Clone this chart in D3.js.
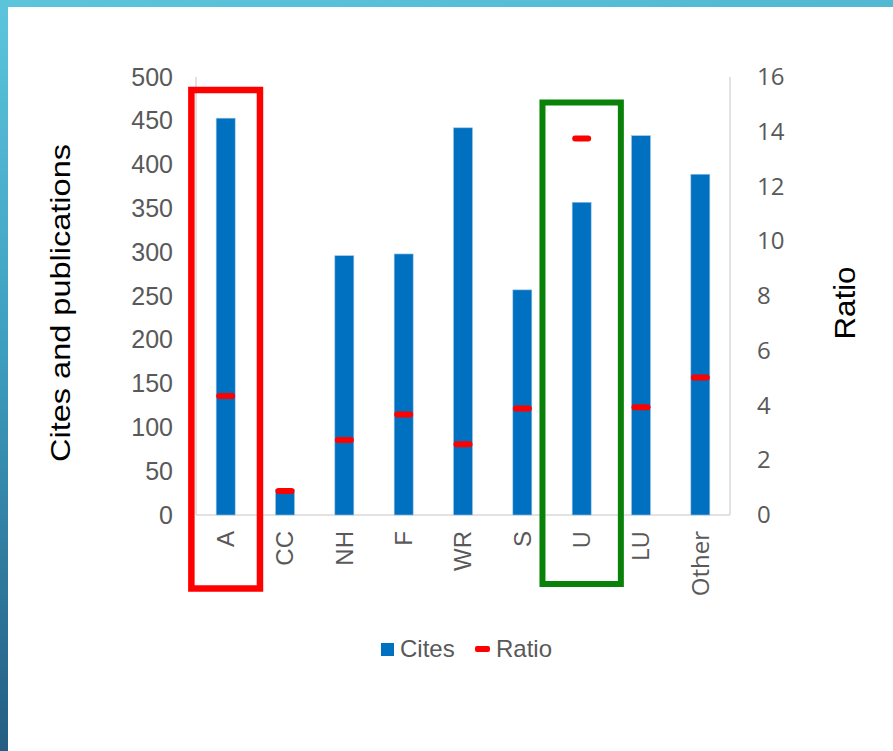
<!DOCTYPE html>
<html>
<head>
<meta charset="utf-8">
<script src="https://cdn.jsdelivr.net/npm/d3@7"></script>
<style>
  body { margin: 0; background: #fff; }
  svg { display: block; }
</style>
</head>
<body>
<div id="chart"></div>
<script>
// Data
const categories = ["A", "CC", "NH", "F", "WR", "S", "U", "LU", "Other"];
const cites = [453, 29, 296, 298, 442, 257, 357, 433, 389];
const ratio = [4.35, 0.88, 2.74, 3.67, 2.58, 3.89, 13.75, 3.94, 5.02];
const citesTicks = [0, 50, 100, 150, 200, 250, 300, 350, 400, 450, 500];
const ratioTicks = [0, 2, 4, 6, 8, 10, 12, 14, 16];
const highlights = [
  { name: "A", color: "#ff0000", half: 34.3, top: 90, bottom: 588.5, sw: 6.5 },
  { name: "U", color: "#0a820a", half: 39.2, top: 102.5, bottom: 584, sw: 6 }
];

const width = 893;
const height = 751;
const plot = { left: 196, right: 730, top: 77, bottom: 515 };
const grey = "#595959";
const arial = "'Liberation Sans', Arial, sans-serif";
const calibri = "'Open Sans', 'Noto Sans', sans-serif";

const svg = d3.select("#chart")
  .append("svg")
  .attr("width", width)
  .attr("height", height);

// slide background: teal/blue frame on top and left
const defs = svg.append("defs");
const grad = defs.append("linearGradient")
  .attr("id", "frame")
  .attr("x1", 0).attr("y1", 0).attr("x2", 0.15).attr("y2", 1);
grad.append("stop").attr("offset", 0).attr("stop-color", "#5cc5dc");
grad.append("stop").attr("offset", 0.45).attr("stop-color", "#3d9fc0");
grad.append("stop").attr("offset", 1).attr("stop-color", "#245a80");

svg.append("rect").attr("width", width).attr("height", height).attr("fill", "url(#frame)");
svg.append("rect").attr("x", 8).attr("y", 7)
  .attr("width", width - 8).attr("height", height - 7).attr("fill", "#fff");

// scales
const x = d3.scaleBand()
  .domain(categories)
  .range([plot.left, plot.right])
  .paddingInner(0.68)
  .paddingOuter(0.34);

const yLeft = d3.scaleLinear().domain([0, 500]).range([plot.bottom, plot.top]);
const yRight = d3.scaleLinear().domain([0, 16]).range([plot.bottom, plot.top]);

// axis frame lines
const axisLine = "#d9d9d9";
svg.append("line")
  .attr("x1", plot.left).attr("x2", plot.right)
  .attr("y1", plot.bottom).attr("y2", plot.bottom)
  .attr("stroke", axisLine).attr("stroke-width", 1.5);
svg.append("line")
  .attr("x1", plot.left).attr("x2", plot.left)
  .attr("y1", plot.top).attr("y2", plot.bottom)
  .attr("stroke", axisLine).attr("stroke-width", 1.5);
svg.append("line")
  .attr("x1", plot.right).attr("x2", plot.right)
  .attr("y1", plot.top).attr("y2", plot.bottom)
  .attr("stroke", axisLine).attr("stroke-width", 1.5);

// left axis
const leftAxis = svg.append("g")
  .attr("transform", `translate(${plot.left},0)`)
  .call(d3.axisLeft(yLeft).tickValues(citesTicks).tickSize(0).tickPadding(23));
leftAxis.select(".domain").remove();
leftAxis.selectAll("text")
  .attr("fill", grey)
  .style("font-family", arial)
  .style("font-size", "25px");

// right axis
const rightAxis = svg.append("g")
  .attr("transform", `translate(${plot.right},0)`)
  .call(d3.axisRight(yRight).tickValues(ratioTicks).tickSize(0).tickPadding(27));
rightAxis.select(".domain").remove();
rightAxis.selectAll("text")
  .attr("fill", grey)
  .style("font-family", calibri)
  .style("font-size", "24px");

// bars
svg.selectAll("rect.bar")
  .data(categories)
  .join("rect")
  .attr("class", "bar")
  .attr("x", d => x(d))
  .attr("y", (d, i) => yLeft(cites[i]))
  .attr("width", x.bandwidth())
  .attr("height", (d, i) => plot.bottom - yLeft(cites[i]))
  .attr("fill", "#0070c0")
  .attr("stroke", "#9cc3e5")
  .attr("stroke-width", 0.6);

// ratio markers
svg.selectAll("rect.ratio")
  .data(categories)
  .join("rect")
  .attr("class", "ratio")
  .attr("x", d => x(d))
  .attr("y", (d, i) => yRight(ratio[i]) - 3)
  .attr("width", x.bandwidth())
  .attr("height", 6)
  .attr("rx", 3)
  .attr("fill", "#ff0000");

// category labels
svg.selectAll("text.cat")
  .data(categories)
  .join("text")
  .attr("class", "cat")
  .attr("transform", d => `translate(${x(d) + x.bandwidth() / 2},531) rotate(-90)`)
  .attr("dy", "0.35em")
  .attr("text-anchor", "end")
  .attr("fill", grey)
  .style("font-family", (d, i) => i >= 6 ? calibri : arial)
  .style("font-size", "24px")
  .text(d => d);

// highlight boxes
svg.selectAll("rect.hl")
  .data(highlights)
  .join("rect")
  .attr("class", "hl")
  .attr("x", d => x(d.name) + x.bandwidth() / 2 - d.half)
  .attr("y", d => d.top)
  .attr("width", d => d.half * 2)
  .attr("height", d => d.bottom - d.top)
  .attr("fill", "none")
  .attr("stroke", d => d.color)
  .attr("stroke-width", d => d.sw);

// axis titles
svg.append("text")
  .attr("transform", "translate(60,303) rotate(-90)")
  .attr("text-anchor", "middle")
  .attr("dy", "0.35em")
  .attr("textLength", 318)
  .attr("lengthAdjust", "spacingAndGlyphs")
  .style("font-family", arial)
  .style("font-size", "28px")
  .attr("fill", "#000")
  .text("Cites and publications");

svg.append("text")
  .attr("transform", "translate(845,303) rotate(-90)")
  .attr("text-anchor", "middle")
  .attr("dy", "0.35em")
  .attr("textLength", 73)
  .attr("lengthAdjust", "spacingAndGlyphs")
  .style("font-family", arial)
  .style("font-size", "29px")
  .attr("fill", "#000")
  .text("Ratio");

// legend
const legend = svg.append("g").attr("transform", "translate(381,649)");
legend.append("rect")
  .attr("x", 0).attr("y", -6).attr("width", 13).attr("height", 13)
  .attr("fill", "#0070c0");
legend.append("text")
  .attr("x", 19).attr("dy", "0.35em")
  .attr("fill", grey)
  .style("font-family", arial)
  .style("font-size", "24px")
  .text("Cites");
legend.append("rect")
  .attr("x", 94).attr("y", -3).attr("width", 15).attr("height", 6).attr("rx", 2)
  .attr("fill", "#ff0000");
legend.append("text")
  .attr("x", 115).attr("dy", "0.35em")
  .attr("fill", grey)
  .style("font-family", arial)
  .style("font-size", "24px")
  .text("Ratio");
</script>
</body>
</html>
